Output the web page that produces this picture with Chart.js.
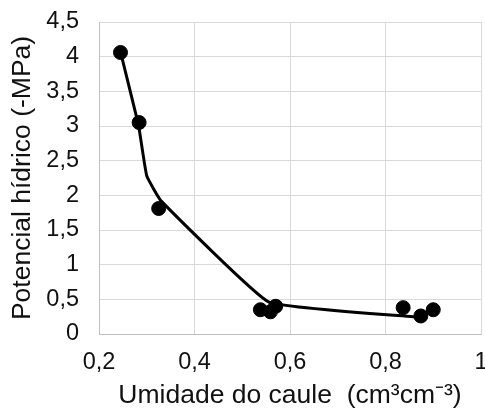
<!DOCTYPE html>
<html>
<head>
<meta charset="utf-8">
<script src="https://cdn.jsdelivr.net/npm/chart.js@4/dist/chart.umd.min.js"></script>
<style>
  html, body { margin: 0; padding: 0; background: #fff; }
  #wrap { width: 485px; height: 412px; }
</style>
</head>
<body>
<div id="wrap"><canvas id="chart"></canvas></div>
<script>
// Umidade do caule (x) e potencial hídrico (y) medidos
const umidade = [0.245, 0.284, 0.325, 0.538, 0.559, 0.570, 0.837, 0.874, 0.900];
const potencial = [4.06, 3.05, 1.81, 0.35, 0.32, 0.40, 0.38, 0.26, 0.35];

// Curva ajustada
const curvaX = [0.245, 0.283, 0.300, 0.330, 0.556, 0.875];
const curvaY = [4.07, 3.00, 2.28, 1.92, 0.46, 0.24];

const xTicks = [0.2, 0.4, 0.6, 0.8, 1];
const yTicks = [0, 0.5, 1, 1.5, 2, 2.5, 3, 3.5, 4, 4.5];

const fmt = v => String(Number(v.toFixed(1))).replace(".", ",");
const tickFont = { family: "Liberation Sans, Arial", size: 23.5 };
const titleFont = { family: "Liberation Sans, Arial", size: 26.5 };

new Chart(document.getElementById("chart"), {
  type: "scatter",
  data: {
    datasets: [
      {
        label: "curva",
        data: curvaX.map((x, i) => ({ x: x, y: curvaY[i] })),
        showLine: true,
        borderColor: "#000",
        borderWidth: 3,
        pointRadius: 0,
        tension: 0.1,
        order: 2
      },
      {
        label: "medidas",
        data: umidade.map((x, i) => ({ x: x, y: potencial[i] })),
        backgroundColor: "#000",
        borderColor: "#000",
        pointRadius: 7,
        order: 1
      }
    ]
  },
  options: {
    responsive: true,
    maintainAspectRatio: false,
    animation: false,
    layout: { autoPadding: false, padding: { top: 22, right: 4, left: 0, bottom: 0 } },
    plugins: { legend: { display: false }, tooltip: { enabled: false } },
    scales: {
      x: {
        type: "linear",
        min: 0.2,
        max: 1,
        afterBuildTicks: s => { s.ticks = xTicks.map(v => ({ value: v })); },
        ticks: { callback: fmt, color: "#111", font: tickFont, padding: 14, maxRotation: 0 },
        grid: { color: "#d9d9d9", lineWidth: 1, drawTicks: false },
        border: { color: "#bfbfbf" },
        title: { display: true, text: "Umidade do caule  (cm³cm⁻³)", color: "#111", font: titleFont, padding: { top: 0, bottom: 0 } },
        afterFit: s => { s.height = 78; s.paddingLeft = 0; s.paddingRight = 0; }
      },
      y: {
        min: 0,
        max: 4.5,
        afterBuildTicks: s => { s.ticks = yTicks.map(v => ({ value: v })); },
        ticks: { callback: fmt, color: "#111", font: tickFont, padding: 20 },
        grid: { color: "#d9d9d9", lineWidth: 1, drawTicks: false },
        border: { color: "#bfbfbf" },
        title: { display: true, text: "Potencial hídrico (-MPa)", color: "#111", font: titleFont, padding: { top: 7, bottom: 0 } },
        afterFit: s => { s.width = 99; s.paddingTop = 0; s.paddingBottom = 0; }
      }
    }
  }
});
</script>
</body>
</html>
